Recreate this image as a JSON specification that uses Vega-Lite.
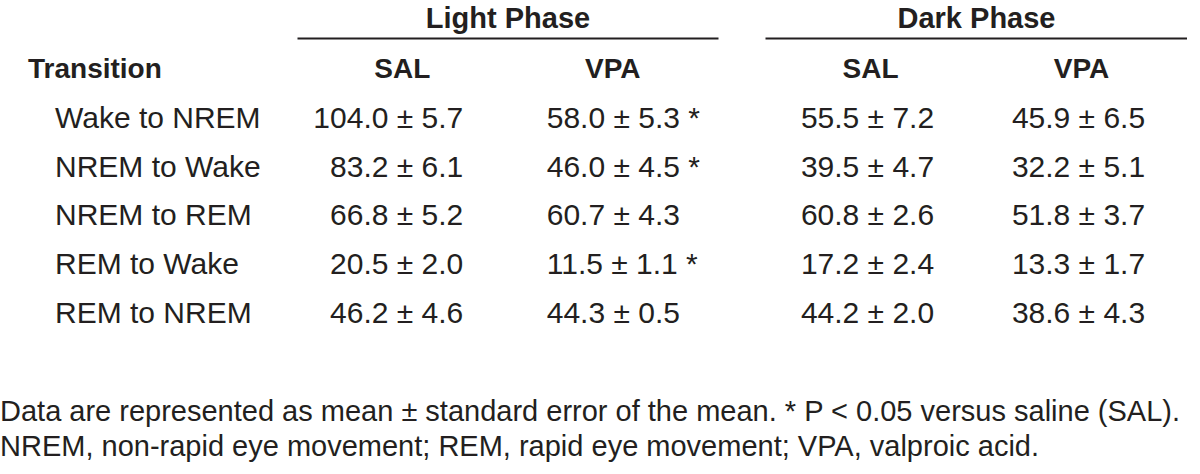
{
  "$schema": "https://vega.github.io/schema/vega-lite/v6.json",
  "padding": {"top": 4, "left": 0, "right": 0, "bottom": 0},
  "background": "white",
  "bounds": "flush",
  "config": {
    "view": {"stroke": null},
    "font": "Liberation Sans, Arial, sans-serif",
    "text": {"font": "Liberation Sans, Arial, sans-serif", "color": "#231f20", "fontSize": 30, "baseline": "middle"}
  },
  "datasets": {
    "cells": [
      {"transition": "Wake to NREM", "phase": "Light", "group": "SAL", "label": "104.0 ± 5.7"},
      {"transition": "Wake to NREM", "phase": "Light", "group": "VPA", "label": "58.0 ± 5.3 *"},
      {"transition": "Wake to NREM", "phase": "Dark", "group": "SAL", "label": "55.5 ± 7.2"},
      {"transition": "Wake to NREM", "phase": "Dark", "group": "VPA", "label": "45.9 ± 6.5"},
      {"transition": "NREM to Wake", "phase": "Light", "group": "SAL", "label": "83.2 ± 6.1"},
      {"transition": "NREM to Wake", "phase": "Light", "group": "VPA", "label": "46.0 ± 4.5 *"},
      {"transition": "NREM to Wake", "phase": "Dark", "group": "SAL", "label": "39.5 ± 4.7"},
      {"transition": "NREM to Wake", "phase": "Dark", "group": "VPA", "label": "32.2 ± 5.1"},
      {"transition": "NREM to REM", "phase": "Light", "group": "SAL", "label": "66.8 ± 5.2"},
      {"transition": "NREM to REM", "phase": "Light", "group": "VPA", "label": "60.7 ± 4.3"},
      {"transition": "NREM to REM", "phase": "Dark", "group": "SAL", "label": "60.8 ± 2.6"},
      {"transition": "NREM to REM", "phase": "Dark", "group": "VPA", "label": "51.8 ± 3.7"},
      {"transition": "REM to Wake", "phase": "Light", "group": "SAL", "label": "20.5 ± 2.0"},
      {"transition": "REM to Wake", "phase": "Light", "group": "VPA", "label": "11.5 ± 1.1 *"},
      {"transition": "REM to Wake", "phase": "Dark", "group": "SAL", "label": "17.2 ± 2.4"},
      {"transition": "REM to Wake", "phase": "Dark", "group": "VPA", "label": "13.3 ± 1.7"},
      {"transition": "REM to NREM", "phase": "Light", "group": "SAL", "label": "46.2 ± 4.6"},
      {"transition": "REM to NREM", "phase": "Light", "group": "VPA", "label": "44.3 ± 0.5"},
      {"transition": "REM to NREM", "phase": "Dark", "group": "SAL", "label": "44.2 ± 2.0"},
      {"transition": "REM to NREM", "phase": "Dark", "group": "VPA", "label": "38.6 ± 4.3"}
    ]
  },
  "title": {
    "text": [
      "Data are represented as mean ± standard error of the mean. * P < 0.05 versus saline (SAL).",
      "NREM, non-rapid eye movement; REM, rapid eye movement; VPA, valproic acid."
    ],
    "orient": "bottom",
    "anchor": "start",
    "frame": "bounds",
    "font": "Liberation Sans, Arial, sans-serif",
    "fontSize": 29,
    "fontWeight": "normal",
    "color": "#231f20",
    "lineHeight": 35,
    "offset": 52
  },
  "spacing": 47,
  "hconcat": [
    {
      "width": 250,
      "height": 308,
      "data": {"name": "cells"},
      "encoding": {
        "y": {
          "field": "transition", "type": "nominal",
          "scale": {"type": "point", "domain": ["Transition", "Wake to NREM", "NREM to Wake", "NREM to REM", "REM to Wake", "REM to NREM"], "padding": 0.656},
          "axis": null
        }
      },
      "layer": [
        {
          "transform": [{"aggregate": [{"op": "count", "as": "n"}], "groupby": ["transition"]}],
          "mark": {"type": "text", "align": "left", "dx": -70},
          "encoding": {"text": {"field": "transition"}}
        },
        {
          "transform": [{"aggregate": [{"op": "count", "as": "n"}]}],
          "mark": {"type": "text", "align": "left", "dx": -97, "fontWeight": "bold", "fontSize": 28},
          "encoding": {"y": {"datum": "Transition", "type": "nominal"}, "text": {"datum": "Transition"}}
        }
      ]
    },
    {
      "width": 421,
      "height": 308,
      "data": {"name": "cells"},
      "transform": [{"filter": "datum.phase === 'Light'"}],
      "encoding": {
        "x": {
          "field": "group", "type": "nominal",
          "scale": {"type": "point", "domain": ["SAL", "VPA"], "padding": 0.5, "align": 0.5},
          "axis": {"orient": "top", "title": "Light Phase", "labels": false, "ticks": false, "domain": true, "domainColor": "#231f20", "domainWidth": 2, "titleFont": "Liberation Sans, Arial, sans-serif", "titleFontSize": 29, "titleFontWeight": "bold", "titleColor": "#231f20", "titlePadding": 5}
        },
        "y": {
          "field": "transition", "type": "nominal",
          "scale": {"type": "point", "domain": ["Transition", "Wake to NREM", "NREM to Wake", "NREM to REM", "REM to Wake", "REM to NREM"], "padding": 0.656},
          "axis": null
        }
      },
      "layer": [
        {
          "transform": [{"aggregate": [{"op": "count", "as": "n"}], "groupby": ["group"]}],
          "mark": {"type": "text", "fontWeight": "bold", "fontSize": 28},
          "encoding": {"y": {"datum": "Transition", "type": "nominal"}, "text": {"field": "group"}}
        },
        {
          "transform": [{"filter": "datum.group === 'SAL'"}],
          "mark": {"type": "text", "align": "right", "dx": 61},
          "encoding": {"text": {"field": "label"}}
        },
        {
          "transform": [{"filter": "datum.group === 'VPA'"}],
          "mark": {"type": "text", "align": "left", "dx": -66},
          "encoding": {"text": {"field": "label"}}
        }
      ]
    },
    {
      "width": 422,
      "height": 308,
      "data": {"name": "cells"},
      "transform": [{"filter": "datum.phase === 'Dark'"}],
      "encoding": {
        "x": {
          "field": "group", "type": "nominal",
          "scale": {"type": "point", "domain": ["SAL", "VPA"], "padding": 0.5, "align": 0.5},
          "axis": {"orient": "top", "title": "Dark Phase", "labels": false, "ticks": false, "domain": true, "domainColor": "#231f20", "domainWidth": 2, "titleFont": "Liberation Sans, Arial, sans-serif", "titleFontSize": 29, "titleFontWeight": "bold", "titleColor": "#231f20", "titlePadding": 5}
        },
        "y": {
          "field": "transition", "type": "nominal",
          "scale": {"type": "point", "domain": ["Transition", "Wake to NREM", "NREM to Wake", "NREM to REM", "REM to Wake", "REM to NREM"], "padding": 0.656},
          "axis": null
        }
      },
      "layer": [
        {
          "transform": [{"aggregate": [{"op": "count", "as": "n"}], "groupby": ["group"]}],
          "mark": {"type": "text", "fontWeight": "bold", "fontSize": 28},
          "encoding": {"y": {"datum": "Transition", "type": "nominal"}, "text": {"field": "group"}}
        },
        {
          "mark": {"type": "text", "dx": -3},
          "encoding": {"text": {"field": "label"}}
        }
      ]
    }
  ]
}
